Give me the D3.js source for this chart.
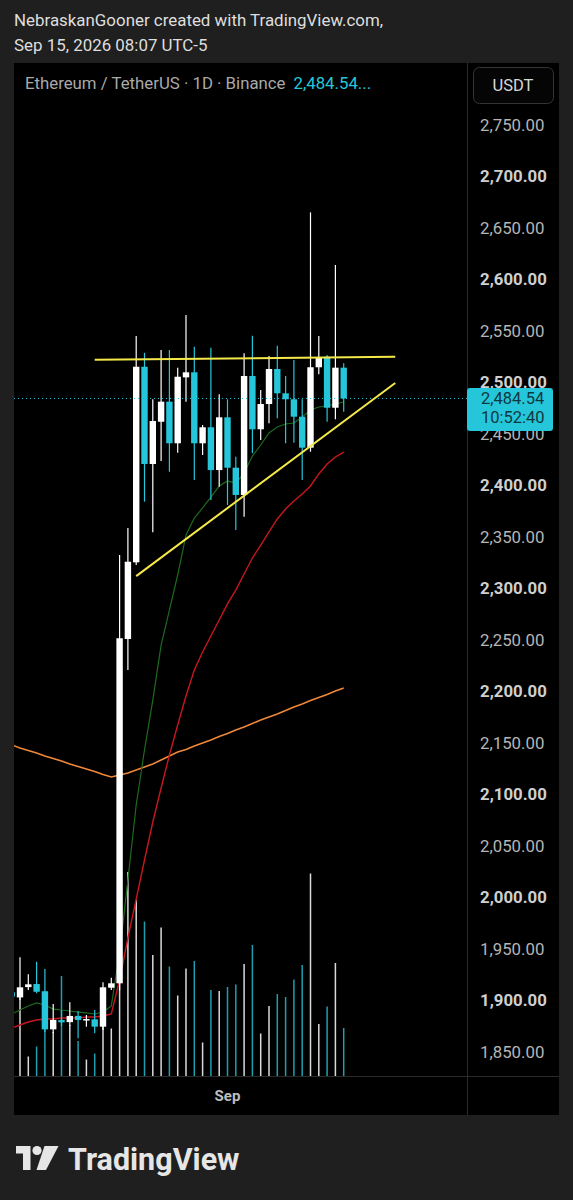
<!DOCTYPE html>
<html><head><meta charset="utf-8">
<script src="https://cdn.jsdelivr.net/npm/d3@7"></script>
<style>
html,body{margin:0;padding:0;background:#1f1f1f;}
svg{display:block;font-family:Roboto,"Noto Sans",sans-serif;}
</style></head><body>
<svg id="chart" width="573" height="1200"></svg>
<script>
// ---- data (Aug 6 .. Sep 15, 2026, daily) ----
const dates = ["2026-08-06","2026-08-07","2026-08-08","2026-08-09","2026-08-10","2026-08-11","2026-08-12","2026-08-13","2026-08-14","2026-08-15","2026-08-16","2026-08-17","2026-08-18","2026-08-19","2026-08-20","2026-08-21","2026-08-22","2026-08-23","2026-08-24","2026-08-25","2026-08-26","2026-08-27","2026-08-28","2026-08-29","2026-08-30","2026-08-31","2026-09-01","2026-09-02","2026-09-03","2026-09-04","2026-09-05","2026-09-06","2026-09-07","2026-09-08","2026-09-09","2026-09-10","2026-09-11","2026-09-12","2026-09-13","2026-09-14","2026-09-15"];
const open  = [1908,1903,1913,1916,1909,1872,1881,1879,1885,1881.3,1881.7,1874.6,1912.4,1916.7,2251,2325.4,2515.3,2420.9,2461.9,2481.4,2441,2505,2509.9,2441,2456.5,2415,2466.2,2417.3,2390.8,2506.3,2454.6,2479.1,2513.1,2489.5,2483.7,2466.8,2436.7,2514.8,2525,2475.5,2514.4];
const high  = [1913,1942,1925.4,1937.7,1930.6,1896.6,1890.8,1898.3,1889.8,1885.9,1890.8,1917.7,1922.1,2332.5,2358.7,2545.1,2528.9,2483.7,2531.6,2531.6,2514.4,2565.5,2534.8,2458.7,2533.8,2488.5,2483.7,2428,2528.3,2545.4,2492.7,2525.7,2535.7,2506.3,2521.8,2483.7,2665.2,2545.1,2526.7,2614.1,2518.6];
const low   = [1900,1900.5,1910.2,1907,1869.4,1868.5,1875.2,1875.2,1863.3,1874.6,1868.2,1871.4,1910.2,1910,2220.9,2322.8,2384.3,2354.6,2423.8,2413.4,2431.8,2481.4,2405.3,2429.6,2385.9,2398.8,2381.1,2356.8,2369.7,2431.3,2444.2,2460.4,2465.2,2441,2441.6,2405.3,2432.8,2508,2461.9,2464.3,2471.7];
const close = [1903.7,1912.8,1915.7,1908.5,1872,1881.1,1878.8,1885,1881.1,1882,1874.6,1912.8,1916.7,2251.7,2326,2515.3,2420.9,2462.6,2481.4,2441,2505.6,2509.9,2441,2456.5,2415,2466.2,2417.3,2390.8,2506.3,2454.6,2479.1,2513.1,2489.5,2483.7,2466.8,2436.7,2514.8,2524.5,2475.5,2514.4,2484.54];
const volume = [120,162,39,59,152,88,200,102,70,33,45,152,95,432,408,352,309,242,297,219,161,215,230,67,172,170,178,183,224,262,85,140,164,158,193,222,405,104,139,226,96]; // thousand ETH
const maFast = [1886.9,1890.8,1894.7,1897.6,1895.6,1891.7,1890.8,1889.8,1888.8,1887.9,1886.9,1888.8,1894.7,1946.1,2017,2089.8,2143.2,2191.7,2245.1,2279.1,2313.1,2351.9,2368.4,2378.2,2388.8,2399.5,2404.4,2402.4,2412.1,2428.6,2439.3,2451,2456.8,2459.7,2460.7,2466.5,2473.3,2476.2,2477.2,2479.1,2481.1];
const maMid  = [1873.3,1876.2,1879.1,1881.1,1882,1882,1883,1883,1883,1884,1884,1885,1886.9,1919.9,1960.7,1998.5,2036.4,2073.3,2106.3,2138.3,2167.5,2195.6,2220.9,2238.3,2253.9,2269.4,2285,2298.5,2314.1,2329.6,2342.2,2354.9,2367.5,2377.2,2385,2391.7,2399.5,2411.2,2420.9,2427.7,2432.5];
const maSlow = [2148.1,2145.1,2142.7,2140.3,2137.4,2135,2132.5,2129.6,2127.2,2124.8,2122.3,2119.4,2117,2118.9,2120.9,2123.8,2126.7,2129.6,2133.5,2137.4,2141.3,2143.7,2147.1,2150,2152.9,2156.3,2159.2,2162.6,2165.5,2168.9,2172.3,2175.2,2178.2,2181.6,2185,2187.9,2191.3,2194.2,2197.1,2200.5,2203.4];
const priceTicks = [1850,1900,1950,2000,2050,2100,2150,2200,2250,2300,2350,2400,2450,2500,2550,2600,2650,2700,2750];
const timeTicks = ["2026-09-01"];
const timeTickLabels = ["Sep"];
// drawings: [date, price] endpoints
const resistanceLine = [["2026-08-16", 2522], ["2026-09-21T05:00", 2525]];
const supportLine = [["2026-08-21", 2312], ["2026-09-21T05:00", 2499.5]];
const lastPrice = 2484.54;
const countdown = "10:52:40";

// ---- layout ----
const svg = d3.select("#chart");
const panel = {x0: 14, x1: 559, y0: 63, y1: 1115};
const plot = {x0: 14, x1: 467, y0: 63, y1: 1076};
const parse = d3.utcParse("%Y-%m-%d");
const parseT = s => s.length > 10 ? d3.isoParse(s + ":00Z") : parse(s);
const dts = dates.map(parse);

const x = d3.scaleUtc().domain([dts[0], dts[dts.length-1]]).range([11.7, 343.7]);
const y = d3.scaleLinear().domain([1850, 2750]).range([1052, 125]);
const yv = d3.scaleLinear().domain([0, 500]).range([1076, 826]);

const UP = "#ffffff", DOWN = "#26c6da";
const data = dts.map((d,i)=>({d, o:open[i], h:high[i], l:low[i], c:close[i], v:volume[i]}));

// header
const hdr = svg.append("g").attr("fill","#dedede").attr("font-size","16.9px");
hdr.append("text").attr("x",14).attr("y",26).text("NebraskanGooner created with TradingView.com,");
hdr.append("text").attr("x",14).attr("y",51).text("Sep 15, 2026 08:07 UTC-5");

// panel
svg.append("rect").attr("x",panel.x0).attr("y",panel.y0).attr("width",panel.x1-panel.x0).attr("height",panel.y1-panel.y0).attr("fill","#000");
svg.append("line").attr("x1",plot.x1+0.5).attr("x2",plot.x1+0.5).attr("y1",panel.y0).attr("y2",panel.y1).attr("stroke","#2b2b2b");
svg.append("line").attr("x1",panel.x0).attr("x2",panel.x1).attr("y1",plot.y1+0.5).attr("y2",plot.y1+0.5).attr("stroke","#2b2b2b");

svg.append("defs").append("clipPath").attr("id","clip").append("rect")
  .attr("x",plot.x0).attr("y",plot.y0).attr("width",plot.x1-plot.x0).attr("height",plot.y1-plot.y0);
const g = svg.append("g").attr("clip-path","url(#clip)");

// volume
g.append("g").selectAll("rect").data(data).join("rect")
  .attr("x", d=>x(d.d)-0.75).attr("width",1.5)
  .attr("y", d=>yv(d.v)).attr("height", d=>yv(0)-yv(d.v))
  .attr("fill", d=> d.c>=d.o ? "rgba(255,255,255,0.85)" : "rgba(38,198,218,0.8)");

// moving averages
const lineGen = arr => d3.line().x((v,i)=>x(dts[i])).y(v=>y(v))(arr);
g.append("path").attr("d",lineGen(maSlow)).attr("fill","none").attr("stroke","#f0883a").attr("stroke-width",1.5);
g.append("path").attr("d",lineGen(maMid)).attr("fill","none").attr("stroke","#c8161d").attr("stroke-width",1.4);
g.append("path").attr("d",lineGen(maFast)).attr("fill","none").attr("stroke","#1d6b1d").attr("stroke-width",1.2);

// candles
const cg = g.append("g");
cg.selectAll("line").data(data).join("line")
  .attr("x1",d=>x(d.d)).attr("x2",d=>x(d.d))
  .attr("y1",d=>y(d.h)).attr("y2",d=>y(d.l))
  .attr("stroke",d=>d.c>=d.o?UP:DOWN).attr("stroke-width",1.2);
cg.selectAll("rect").data(data).join("rect")
  .attr("x",d=>x(d.d)-3.2).attr("width",6.4)
  .attr("y",d=>y(Math.max(d.o,d.c)))
  .attr("height",d=>Math.max(1.5, Math.abs(y(d.o)-y(d.c))))
  .attr("fill",d=>d.c>=d.o?UP:DOWN);

// current price dotted line
g.append("line").attr("x1",plot.x0).attr("x2",plot.x1).attr("y1",y(lastPrice)).attr("y2",y(lastPrice))
  .attr("stroke",DOWN).attr("stroke-dasharray","1,3").attr("stroke-width",1);

// drawings
const dl = [resistanceLine, supportLine];
svg.append("g").selectAll("line").data(dl).join("line")
  .attr("x1",d=>x(parseT(d[0][0]))).attr("y1",d=>y(d[0][1]))
  .attr("x2",d=>x(parseT(d[1][0]))).attr("y2",d=>y(d[1][1]))
  .attr("stroke","#f5e94a").attr("stroke-width",2);

// legend
const leg = svg.append("text").attr("x",25).attr("y",89).attr("font-size","16.8px");
leg.append("tspan").attr("fill","#a9a9a9").text("Ethereum / TetherUS · 1D · Binance");
leg.append("tspan").attr("fill",DOWN).attr("dx",8).text(d3.format(",.2f")(lastPrice)+"...");

// USDT box
svg.append("rect").attr("x",473.5).attr("y",67.5).attr("width",80).attr("height",36).attr("rx",6)
  .attr("fill","#050505").attr("stroke","#353535");
svg.append("text").attr("x",513).attr("y",91).attr("text-anchor","middle").attr("fill","#d8d8d8").attr("font-size","16.5px").text("USDT");

// price axis (labels partly hidden behind last-price tag, as in the original)
const ly = y(lastPrice);
const ax = svg.append("g");
ax.selectAll("text").data(priceTicks).join("text")
  .attr("x",480).attr("y",d=>y(d)+5.5)
  .attr("font-size","16.8px")
  .attr("font-weight",d=>d%100===0?"bold":"normal")
  .attr("fill",d=>d%100===0?"#cfcfcf":"#b5b5b5")
  .text(d=>d3.format(",.2f")(d));

// last price label
svg.append("rect").attr("x",467).attr("y",ly-10.5).attr("width",86).attr("height",43).attr("rx",3).attr("fill",DOWN);
svg.append("text").attr("x",481).attr("y",ly+6).attr("font-size","16.5px").attr("fill","#0f3940").text(d3.format(",.2f")(lastPrice));
svg.append("text").attr("x",481).attr("y",ly+24.5).attr("font-size","16.5px").attr("fill","#0f3940").text(countdown);

// time axis
svg.append("g").selectAll("text").data(timeTicks).join("text")
  .attr("x",(d)=>x(parse(d))).attr("y",1101).attr("text-anchor","middle")
  .attr("font-size","15px").attr("font-weight","bold").attr("fill","#bdbdbd")
  .text((d,i)=>timeTickLabels[i]);

// TradingView logo
const logo = svg.append("g").attr("fill","#e6e6e6");
logo.append("path").attr("d","M16,1146 H30.5 V1170 H23 V1153.5 H16 Z");
logo.append("circle").attr("cx",37).attr("cy",1150.5).attr("r",4.6);
logo.append("path").attr("d","M44.5,1146 H58.5 L46,1170 H36.5 Z");
logo.append("text").attr("x",68).attr("y",1170).attr("font-size","30.5px").attr("font-weight","bold").text("TradingView");
</script>
</body></html>
